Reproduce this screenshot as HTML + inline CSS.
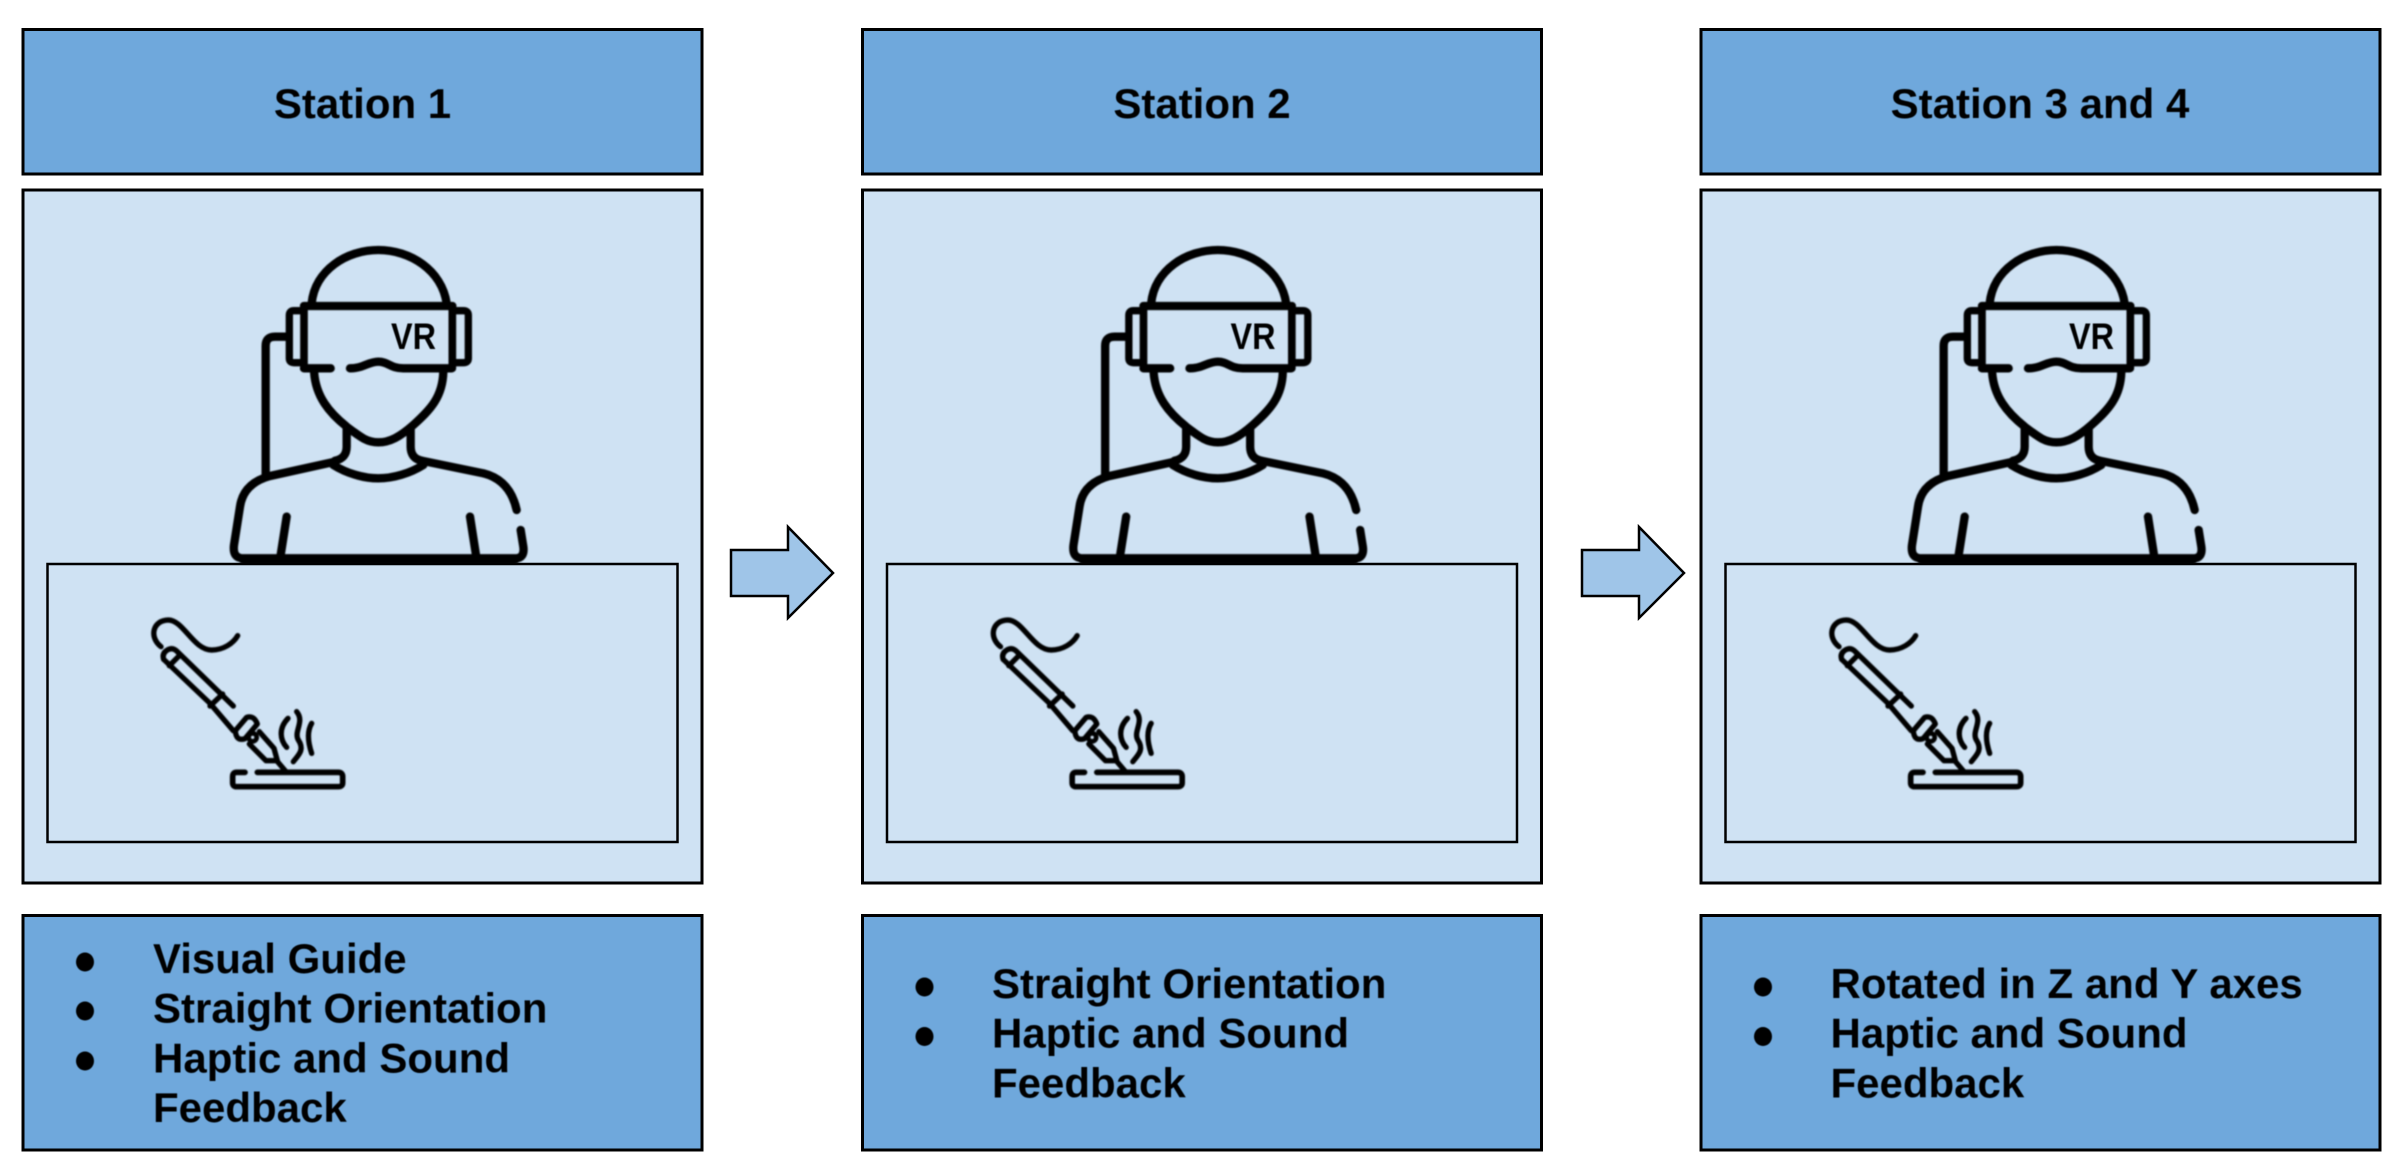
<!DOCTYPE html>
<html><head><meta charset="utf-8"><style>
html,body{margin:0;padding:0;background:#fff;width:2394px;height:1171px;overflow:hidden}
svg{display:block}
text{font-family:"Liberation Sans",sans-serif;font-weight:700;font-size:42px;fill:#000}
</style></head><body>
<svg width="2394" height="1171" viewBox="0 0 2394 1171" xmlns="http://www.w3.org/2000/svg">
<defs>
<filter id="b" x="-5%" y="-5%" width="110%" height="110%"><feGaussianBlur stdDeviation="0.8"/></filter>
<filter id="t" x="-5%" y="-5%" width="110%" height="110%"><feGaussianBlur stdDeviation="0.5"/></filter>
<g id="person" transform="translate(200,220) scale(0.33333)" fill="none" stroke="#000" stroke-width="25" stroke-linecap="round" stroke-linejoin="round">
<path d="M335,250 C345,150 440,90 535,90 C630,90 725,150 740,250"/>
<path d="M312,258 H757"/>
<path d="M312,258 V445 M757,258 V445" stroke-width="23"/>
<path d="M312,445 H392 M450,445 C490,445 505,425 535,425 C565,425 570,445 610,445 H755"/>
<path d="M305,272 H282 Q268,272 268,286 V415 Q268,428 282,428 H305" stroke-width="22"/>
<path d="M765,272 H790 Q805,272 805,286 V415 Q805,428 790,428 H765" stroke-width="22"/>
<path d="M262,350 H225 Q197,350 197,378 V765"/>
<path d="M342,450 C345,530 390,580 440,620 C480,650 500,667 535,667 C570,667 600,650 640,615 C690,570 730,530 730,450"/>
<path d="M440,625 V680 Q440,715 405,722 M632,625 V680 Q632,715 665,722"/>
<path d="M405,725 L210,768 Q130,790 120,860 L102,975 Q97,1015 130,1015 H945 Q975,1015 970,980 L962,930"/>
<path d="M950,870 Q930,780 850,760 L665,722"/>
<path d="M400,735 C440,760 490,775 535,775 C580,775 630,760 670,735"/>
<path d="M260,890 L242,1005 M810,890 L828,1005"/>
<path d="M130,1018 H945" stroke-width="28"/>
</g>
<g id="iron" transform="translate(130,600) scale(0.33333)" fill="none" stroke="#000" stroke-width="16" stroke-linecap="round" stroke-linejoin="round">
<path d="M93,140 C55,110 70,60 115,60 C160,60 190,150 245,150 C280,150 310,130 323,107"/>
<path d="M101,178 Q95,160 112,150 Q128,140 142,155 L310,318"/>
<path d="M101,178 L240,310 L310,392"/>
<path d="M150,165 L118,197"/>
<path d="M278,282 L240,318"/>
<path d="M316,392 L350,352 Q372,345 382,372 L345,416 Q318,425 316,392 Z"/>
<circle cx="368" cy="412" r="12" stroke-width="14"/>
<path d="M388,395 L432,445 L442,482 L408,482 L358,432"/>
<path d="M440,482 L468,515"/>
<path d="M345,517 H320 Q308,517 308,530 V548 Q308,560 320,560 H625 Q638,560 638,548 V530 Q638,517 625,517 H382" stroke-width="17"/>
<path d="M474,355 C445,385 450,420 470,442"/>
<path d="M500,335 C525,365 490,395 505,420 C525,450 505,465 490,485"/>
<path d="M545,370 C530,395 535,430 545,460"/>
</g>
<g id="col" stroke="#000" stroke-width="3" fill="#6fa8dc">
<rect x="23" y="29.500" width="679" height="144.500"/>
<rect x="23" y="190" width="679" height="693" fill="#cfe2f3"/>
<rect x="47.500" y="564" width="630" height="278" fill="none" stroke-width="2.500"/>
<rect x="23" y="915.500" width="679" height="234.500"/>
</g>
</defs>

<use href="#col"/>
<use href="#col" x="839.5"/>
<use href="#col" x="1678"/>

<g filter="url(#b)"><use href="#person"/><use href="#iron"/></g>
<g filter="url(#b)"><use href="#person" x="839.5"/><use href="#iron" x="839.5"/></g>
<g filter="url(#b)"><use href="#person" x="1678"/><use href="#iron" x="1678"/></g>

<g filter="url(#t)">
<text x="391" y="349" textLength="45" lengthAdjust="spacingAndGlyphs" style="font-size:37px">VR</text>
<text x="1230.500" y="349" textLength="45" lengthAdjust="spacingAndGlyphs" style="font-size:37px">VR</text>
<text x="2069" y="349" textLength="45" lengthAdjust="spacingAndGlyphs" style="font-size:37px">VR</text>

<text x="362.500" y="118" text-anchor="middle">Station 1</text>
<text x="1202" y="118" text-anchor="middle">Station 2</text>
<text x="2040" y="118" text-anchor="middle">Station 3 and 4</text>

<ellipse cx="85" cy="962" rx="9" ry="9.500"/>
<ellipse cx="85" cy="1011" rx="9" ry="9.500"/>
<ellipse cx="85" cy="1061" rx="9" ry="9.500"/>
<text x="153" y="973">Visual Guide</text>
<text x="153" y="1022.700">Straight Orientation</text>
<text x="153" y="1072.400">Haptic and Sound</text>
<text x="153" y="1122">Feedback</text>

<ellipse cx="924.500" cy="987" rx="9" ry="9.500"/>
<ellipse cx="924.500" cy="1036.500" rx="9" ry="9.500"/>
<text x="992" y="998">Straight Orientation</text>
<text x="992" y="1047.700">Haptic and Sound</text>
<text x="992" y="1097.400">Feedback</text>

<ellipse cx="1763" cy="987" rx="9" ry="9.500"/>
<ellipse cx="1763" cy="1036.500" rx="9" ry="9.500"/>
<text x="1830.500" y="998">Rotated in Z and Y axes</text>
<text x="1830.500" y="1047.700">Haptic and Sound</text>
<text x="1830.500" y="1097.400">Feedback</text>
</g>

<g fill="#9fc5e8" stroke="#000" stroke-width="2.500" stroke-linejoin="miter">
<path d="M731,550 H788 V527 L833,573 L788,618 V596 H731 Z"/>
<path d="M1582,550 H1639 V527 L1684,573 L1639,618 V596 H1582 Z"/>
</g>
</svg>
</body></html>
